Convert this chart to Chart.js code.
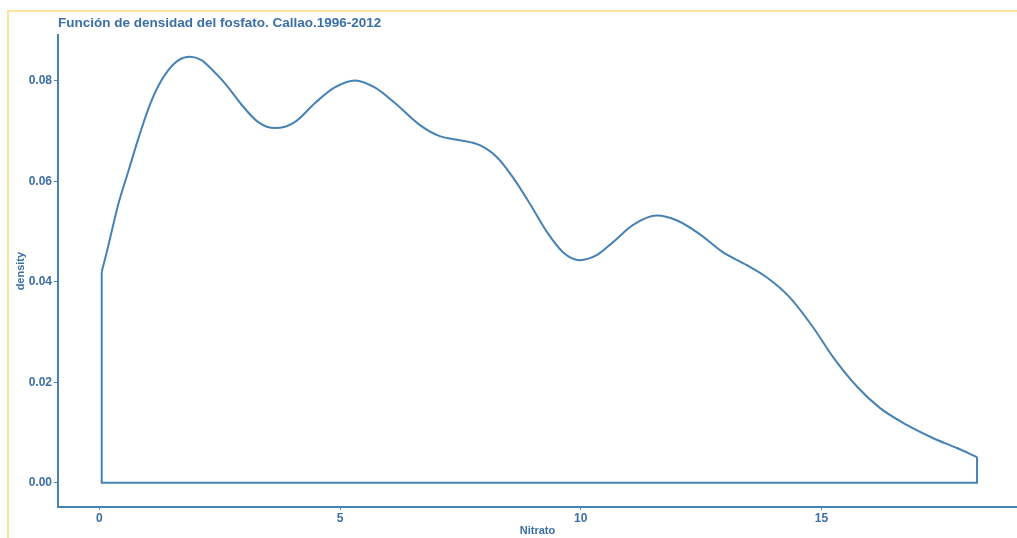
<!DOCTYPE html>
<html>
<head>
<meta charset="utf-8">
<script src="https://cdn.jsdelivr.net/npm/chart.js@4.4.1/dist/chart.umd.min.js"></script>
<style>
  html, body { margin: 0; padding: 0; background: #fff; }
  #wrap { position: relative; width: 1017px; height: 538px; overflow: hidden; }
  #frame { position: absolute; left: 7px; top: 10px; width: 1020px; height: 540px;
           border-top: 2px solid #fde59a; border-left: 2px solid #fde59a; }
  #chart { position: absolute; left: 0; top: 0; }
</style>
</head>
<body>
<div id="wrap">
  <div id="frame"></div>
  <canvas id="chart" width="1017" height="538"></canvas>
</div>
<script>
// density curve (Nitrato, density)
const nitrato = [0.05, 0.19, 0.39, 0.60, 0.81, 1.02, 1.23, 1.43, 1.64, 1.88, 2.13, 2.26, 2.61, 2.96,
  3.30, 3.65, 4.06, 4.48, 4.89, 5.31, 5.72, 6.14, 6.66, 7.07, 7.49, 7.90, 8.26, 8.59, 8.94, 9.30,
  9.63, 9.98, 10.33, 10.67, 11.08, 11.58, 12.00, 12.47, 12.95, 13.45, 13.86, 14.34, 14.82, 15.24,
  15.74, 16.21, 16.77, 17.31, 17.81, 18.23];
const density = [0.0420, 0.0473, 0.0553, 0.0619, 0.0685, 0.0745, 0.0791, 0.0821, 0.0841, 0.0848,
  0.0841, 0.0830, 0.0795, 0.0752, 0.0718, 0.0706, 0.0718, 0.0756, 0.0787, 0.0801, 0.0787, 0.0756,
  0.0712, 0.0690, 0.0682, 0.0672, 0.0648, 0.0608, 0.0556, 0.0499, 0.0459, 0.0443, 0.0453, 0.0479,
  0.0513, 0.0532, 0.0522, 0.0495, 0.0459, 0.0433, 0.0409, 0.0369, 0.0310, 0.0250, 0.0191, 0.0149,
  0.0115, 0.0089, 0.0069, 0.0051];
const xTicks = [0, 5, 10, 15];
const yTicks = [0, 0.02, 0.04, 0.06, 0.08];

const lineColor = '#4682b4';
const textColor = '#3a6fa8';
const family = "'Liberation Sans', Arial, sans-serif";
const tickFont = {family: family, size: 12, weight: 'bold'};
const axisFont = {family: family, size: 11, weight: 'bold'};

const curve = nitrato.map((x, i) => ({x: x, y: density[i]}));
const last = nitrato.length - 1;
// closing legs of the density polygon (down to baseline and back up)
const outline = [
  {x: nitrato[last], y: density[last]},
  {x: nitrato[last], y: 0},
  {x: nitrato[0], y: 0},
  {x: nitrato[0], y: density[0]}
];

new Chart(document.getElementById('chart'), {
  type: 'scatter',
  data: {
    datasets: [
      {data: curve, showLine: true, borderColor: lineColor, borderWidth: 2, pointRadius: 0, cubicInterpolationMode: 'monotone'},
      {data: outline, showLine: true, borderColor: lineColor, borderWidth: 2, pointRadius: 0, tension: 0}
    ]
  },
  options: {
    responsive: false,
    animation: false,
    layout: {padding: 0},
    plugins: {
      legend: {display: false},
      tooltip: {enabled: false},
      title: {
        display: true,
        fullSize: false,
        align: 'start',
        text: 'Función de densidad del fosfato. Callao.1996-2012',
        color: textColor,
        font: {family: family, size: 13.5, weight: 'bold'},
        padding: {top: 15, bottom: 4}
      }
    },
    scales: {
      x: {
        type: 'linear',
        min: -0.858,
        max: 19.06,
        afterBuildTicks: s => { s.ticks = xTicks.map(v => ({value: v})); },
        afterFit: s => { s.height = 31; },
        border: {display: true, color: lineColor, width: 2},
        grid: {drawOnChartArea: false, tickLength: 3, tickColor: lineColor},
        ticks: {color: textColor, font: tickFont, padding: 1},
        title: {display: true, text: 'Nitrato', color: textColor, font: axisFont, padding: {top: 0, bottom: 0}}
      },
      y: {
        type: 'linear',
        min: -0.00484,
        max: 0.0891,
        afterBuildTicks: s => { s.ticks = yTicks.map(v => ({value: v})); },
        afterFit: s => { s.width = 58; },
        border: {display: true, color: lineColor, width: 2},
        grid: {drawOnChartArea: false, tickLength: 4, tickColor: lineColor},
        ticks: {color: textColor, font: tickFont, padding: 2, callback: v => v.toFixed(2)},
        title: {display: true, text: 'density', color: textColor, font: axisFont, padding: {top: 14, bottom: 0}}
      }
    }
  }
});
</script>
</body>
</html>
